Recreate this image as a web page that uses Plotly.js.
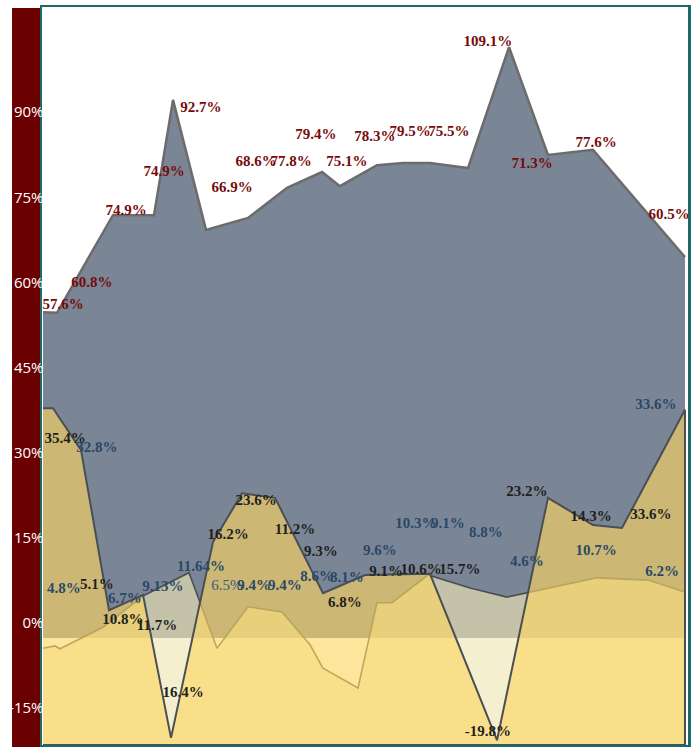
<!DOCTYPE html>
<html>
<head>
<meta charset="utf-8">
<script src="https://cdn.plot.ly/plotly-3.0.1.min.js"></script>
<style>html,body{margin:0;padding:0;background:#fff}</style>
</head>
<body>
<div id="chart" style="width:697px;height:747px"></div>
<script>
// ---- data ----
// top series (dark-red labels), grey area
const xTop = [0, 2.18, 10.90, 17.29, 20.25, 25.39, 31.93, 38.01, 43.46, 46.26, 52.02, 56.07, 60.28, 66.20, 72.59, 78.66, 85.67, 100];
const yTop = [57.4, 57.3, 74.5, 74.5, 94.8, 71.9, 74.0, 79.3, 82.1, 79.6, 83.3, 83.7, 83.7, 82.8, 104.1, 85.1, 86.0, 67.1];

// middle series (black labels), gold area
const xMid = [0, 1.56, 5.92, 10.28, 15.58, 19.94, 26.48, 31.00, 36.14, 43.61, 50.16, 60.28, 70.72, 78.66, 85.67, 90.19, 100];
const yMid = [40.5, 40.5, 33.1, 4.9, 7.6, -17.6, 16.9, 25.5, 24.7, 7.9, 11.1, 11.3, -18.0, 24.7, 19.9, 19.4, 40.2];

// low series (blue labels), cream area
const xLow = [0, 1.87, 2.65, 9.35, 15.58, 22.74, 27.10, 31.93, 37.23, 41.59, 43.61, 49.07, 52.02, 54.36, 59.97, 66.51, 72.27, 75.86, 86.29, 94.24, 100];
const yLow = [-1.8, -1.4, -1.9, 1.9, 7.4, 11.5, -1.8, 5.5, 4.6, -1.2, -5.3, -8.8, 6.2, 6.2, 11.1, 8.8, 7.2, 8.1, 10.6, 10.2, 8.1];

// data labels
const redText = ['57.6%','60.8%','74.9%','74.9%','92.7%','66.9%','68.6%','77.8%','79.4%','75.1%','78.3%','79.5%','75.5%','109.1%','71.3%','77.6%','60.5%'];
const redX = [3.12, 7.63, 12.93, 18.85, 24.61, 29.44, 33.18, 38.63, 42.52, 47.35, 51.71, 57.17, 63.24, 69.31, 76.17, 86.14, 97.51];
const redY = [58.67, 62.54, 75.23, 82.10, 93.38, 79.28, 83.86, 83.86, 88.62, 83.86, 88.27, 89.15, 89.15, 105.0, 83.51, 87.21, 74.52];

const blackText = ['35.4%','5.1%','10.8%','11.7%','16.4%','16.2%','23.6%','11.2%','9.3%','6.8%','9.1%','10.6%','15.7%','-19.8%','23.2%','14.3%','33.6%'];
const blackX = [3.43, 8.41, 12.46, 17.76, 21.81, 28.82, 33.18, 39.25, 43.30, 47.04, 53.43, 58.88, 64.95, 69.31, 75.39, 85.36, 94.70];
const blackY = [35.06, 9.34, 3.17, 2.11, -9.69, 18.15, 24.14, 19.03, 15.15, 6.17, 11.63, 11.98, 11.98, -16.56, 25.72, 21.32, 21.67];

const blueText = ['4.8%','32.8%','6.7%','9.13%','11.64%','6.5%','9.4%','9.4%','8.6%','8.1%','9.6%','10.3%','9.1%','8.8%','4.6%','10.7%','33.6%','6.2%'];
const blueX = [3.27, 8.41, 12.77, 18.69, 24.61, 28.66, 32.87, 37.69, 42.68, 47.35, 52.49, 58.10, 63.08, 69.00, 75.39, 86.14, 95.48, 96.42];
const blueY = [8.63, 33.47, 6.87, 8.99, 12.51, 9.16, 9.16, 9.16, 10.75, 10.57, 15.33, 20.08, 20.08, 18.50, 13.39, 15.33, 41.05, 11.63];

const yTicks = [-15, 0, 15, 30, 45, 60, 75, 90];
const yTickText = ['-15%', '0%', '15%', '30%', '45%', '60%', '75%', '90%'];
const yRange = [-18.85, 111.17];
const xRange = [-0.156, 100.47];

// ---- traces ----
const floor = yRange[0];
const lastX = (arr) => arr[arr.length - 1];

const traces = [
  {
    x: xTop, y: yTop, mode: 'lines', fill: 'tozeroy', fillcolor: '#7a8695',
    line: {color: '#6c6c6c', width: 2.5}, hoverinfo: 'skip', showlegend: false
  },
  {
    x: xLow.concat([lastX(xLow), xLow[0]]), y: yLow.concat([floor, floor]),
    mode: 'lines', fill: 'toself', fillcolor: 'rgba(238,230,180,0.64)',
    line: {color: 'rgba(66,70,76,0.9)', width: 1.6}, hoverinfo: 'skip', showlegend: false
  },
  {
    x: xMid.concat([lastX(xMid), xMid[0]]), y: yMid.concat([floor, floor]),
    mode: 'lines', fill: 'toself', fillcolor: 'rgba(252,214,96,0.63)',
    line: {color: '#4a4e55', width: 2}, hoverinfo: 'skip', showlegend: false
  },
  {
    x: redX, y: redY, text: redText, mode: 'text', textposition: 'middle center',
    textfont: {family: 'Liberation Serif, Times New Roman, serif', size: 15, color: '#770b0b', weight: 'bold'},
    cliponaxis: false, hoverinfo: 'skip', showlegend: false
  },
  {
    x: blackX, y: blackY, text: blackText, mode: 'text', textposition: 'middle center',
    textfont: {family: 'Liberation Serif, Times New Roman, serif', size: 15, color: '#1f1f1f', weight: 'bold'},
    cliponaxis: false, hoverinfo: 'skip', showlegend: false
  },
  {
    x: blueX, y: blueY, text: blueText, mode: 'text', textposition: 'middle center',
    textfont: {family: 'Liberation Serif, Times New Roman, serif', size: 15,
      color: blueText.map((t, i) => i === 5 ? '#3a5878' : '#2a4868'),
      weight: blueText.map((t, i) => i === 5 ? 'normal' : 'bold')},
    cliponaxis: false, hoverinfo: 'skip', showlegend: false
  }
];

const layout = {
  width: 697, height: 747,
  margin: {l: 42, r: 9, t: 7, b: 2, pad: 0},
  paper_bgcolor: '#ffffff', plot_bgcolor: '#ffffff',
  showlegend: false,
  xaxis: {
    range: xRange, showticklabels: false, ticks: '', showgrid: false, zeroline: false,
    showline: true, mirror: true, linecolor: '#1b6b6b', linewidth: 2.5, fixedrange: true
  },
  yaxis: {
    range: yRange, tickmode: 'array', tickvals: yTicks, ticktext: yTickText, ticks: '',
    showgrid: false, zeroline: false,
    showline: true, mirror: true, linecolor: '#1b6b6b', linewidth: 2.5,
    tickfont: {family: 'Open Sans, sans-serif', size: 15, color: '#ffffff'},
    ticklabelshift: -15, ticklabelstandoff: -7, fixedrange: true
  },
  shapes: [
    {type: 'rect', xref: 'paper', yref: 'paper', x0: -0.0464, x1: 0, y0: -0.01, y1: 0.9986,
     fillcolor: '#6b0000', line: {width: 0}, layer: 'below'}
  ]
};

Plotly.newPlot('chart', traces, layout, {staticPlot: true, displayModeBar: false});
</script>
</body>
</html>
